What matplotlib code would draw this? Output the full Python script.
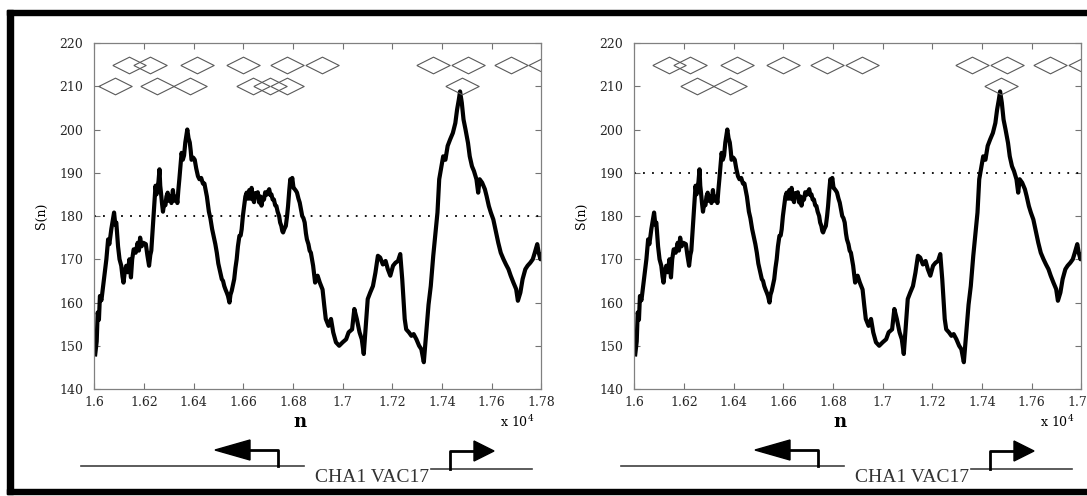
import matplotlib.pyplot as plt
from matplotlib.patches import Rectangle, Polygon

# S(n) curve (same curve in both panels)
n_vals = [16003, 16009, 16013, 16018, 16022, 16028, 16035, 16042, 16048, 16055,
          16060, 16068, 16074, 16079, 16084, 16088, 16095, 16101, 16108, 16113,
          16117, 16122, 16128, 16134, 16141, 16147, 16152, 16158, 16166, 16174,
          16179, 16184, 16190, 16197, 16207, 16213, 16220, 16225, 16229, 16237,
          16241, 16246, 16250, 16253, 16258, 16262, 16265, 16268, 16272, 16276,
          16281, 16286, 16290, 16295, 16300, 16305, 16310, 16316, 16320, 16325,
          16330, 16334, 16338, 16342, 16347, 16351, 16356, 16361, 16366, 16370,
          16374, 16379, 16384, 16388, 16391, 16398, 16404, 16410, 16417, 16423,
          16430, 16437, 16443, 16448, 16453, 16461, 16467, 16474, 16480, 16487,
          16493, 16499, 16504, 16509, 16513, 16518, 16523, 16528, 16533, 16538,
          16544, 16548, 16553, 16558, 16563, 16568, 16573, 16578, 16584, 16589,
          16593, 16598, 16603, 16608, 16613, 16618, 16624, 16628, 16633, 16638,
          16643, 16648, 16653, 16658, 16664, 16669, 16673, 16678, 16683, 16688,
          16693, 16698, 16704, 16709, 16713, 16718, 16723, 16728, 16733, 16738,
          16744, 16748, 16753, 16757, 16760, 16765, 16771, 16776, 16780, 16785,
          16789, 16793, 16797, 16802, 16807, 16812, 16816, 16822, 16827, 16832,
          16837, 16842, 16847, 16852, 16856, 16862, 16867, 16872, 16881, 16889,
          16899, 16908, 16919, 16926, 16932, 16943, 16953, 16962, 16973, 16986,
          17000, 17014, 17024, 17038, 17047, 17057, 17068, 17077, 17085, 17092,
          17101, 17111, 17122, 17132, 17142, 17151, 17162, 17173, 17182, 17192,
          17203, 17213, 17223, 17232, 17240, 17250, 17256, 17267, 17277, 17286,
          17297, 17308, 17317, 17327, 17338, 17346, 17355, 17365, 17373, 17382,
          17389, 17396, 17405, 17414, 17423, 17433, 17444, 17454, 17461, 17468,
          17473, 17480, 17487, 17495, 17505, 17512, 17521, 17529, 17539, 17546,
          17552, 17562, 17573, 17580, 17589, 17597, 17607, 17618, 17627, 17637,
          17648, 17658, 17668, 17677, 17688, 17699, 17706, 17716, 17725, 17736,
          17745, 17756, 17766, 17774, 17784, 17790, 17797, 17800]
s_vals = [148, 151, 157.7, 156, 161.5, 160.5, 163.8, 167, 170, 174.6,
          173.5, 177, 179, 180.8, 178, 178.5, 173, 170, 168.5, 166,
          164.6, 167, 168.5, 167, 170, 165.8, 170, 172.3, 171.5, 173.8,
          172, 175, 173, 173.8, 173.5, 171, 168.5, 171, 172, 179.2,
          183, 187, 185, 186, 188, 190.8, 187, 185.4, 183, 181,
          183, 182.5, 184.5, 185.4, 183.5, 184.5, 183, 186, 184, 183.5,
          184.5, 183, 186, 188.5, 192, 194.6, 193, 194, 197, 198.5,
          200, 198, 197, 195, 193, 193.5, 193, 191, 189.2, 188.5,
          188.8, 187.5, 187.5, 186, 184.5, 181, 179.5, 177, 175.4, 173.5,
          171.5, 169, 167.7, 166.5, 165.4, 165, 163.8, 163, 162.3, 161.5,
          160, 161.8, 162.7, 164, 165.4, 168, 170, 173, 175.4, 175.5,
          176.9, 180, 182.3, 184.5, 185.4, 184, 186, 184, 186.5, 184,
          183.2, 185.3, 184.6, 185.5, 183.1, 184.5, 182.4, 184.2, 183.8, 185.5,
          184.9, 185.5, 186.2, 184.8, 185, 183.8, 183.8, 182.5, 182.3, 181,
          180, 178.5, 177.7, 176.5, 176.2, 177, 177.7, 180, 182.3, 186,
          188.5, 187.8, 188.8, 186.5, 186.2, 185.8, 185.4, 184, 183.1, 181.5,
          180, 179.5, 178.5, 176, 174.6, 173.5, 172, 171.5, 168.5, 164.6,
          166.2, 164.6, 163, 159.2, 156.2, 154.6, 156.2, 153.1, 150.8, 150,
          150.8, 151.5, 153.1, 153.8, 158.5, 156.2, 153.1, 151.5, 148.1, 153.8,
          160.8, 162.3, 163.8, 166.9, 170.8, 170.4, 168.8, 169.6, 167.7, 166.2,
          168.5, 169.2, 169.6, 171.2, 165.4, 156.2, 153.8, 153.1, 152.3, 152.7,
          151.5, 150, 149.2, 146.2, 154, 159.5, 163.8, 170.8, 175.4, 180.8,
          188.5, 190.8, 193.8, 193, 196.2, 197.7, 199.2, 201.5, 204.6, 206.9,
          208.8, 206.2, 202.3, 200, 196.9, 193.8, 191.5, 190.4, 188.5, 185.4,
          188.5, 187.7, 186.2, 184.6, 182.3, 180.8, 179.2, 176.2, 173.8, 171.5,
          170, 168.8, 167.7, 166.2, 164.6, 163.1, 160.4, 162.3, 165.4, 167.7,
          168.5, 169.2, 170, 171.5, 173.5, 171.5, 170, 171]

# diamond markers (window centres), upper row at 215, lower row at 210
top_left = [16140, 16224, 16412, 16599, 16776, 16916, 17365, 17503, 17678, 17814]
low_left = [16083, 16253, 16386, 16640, 16707, 16775, 17482]
top_right = [16140, 16224, 16412, 16599, 16776, 16916, 17358, 17500, 17674, 17814]
low_right = [16253, 16386, 17478]
row_y = [215, 210]

thresholds = [180, 190]
x_ticks = [16000, 16200, 16400, 16600, 16800, 17000, 17200, 17400, 17600, 17800]
x_labels = ['1.6', '1.62', '1.64', '1.66', '1.68', '1.7', '1.72', '1.74', '1.76', '1.78']
y_ticks = [140, 150, 160, 170, 180, 190, 200, 210, 220]
gene_text = 'CHA1 VAC17'

plt.rcParams['font.family'] = ['DejaVu Serif']
plt.rcParams['mathtext.fontset'] = 'dejavuserif'

fig = plt.figure(figsize=(10.87, 4.96), dpi=100)

# background layer in pixel units: frame + gene diagram
bg = fig.add_axes([0, 0, 1, 1])
bg.set_xlim(0, 1087)
bg.set_ylim(496, 0)
bg.axis('off')
bg.add_patch(Rectangle((7, 10), 1080, 5, color='k'))
bg.add_patch(Rectangle((7, 10), 6, 484, color='k'))
bg.add_patch(Rectangle((7, 489), 1080, 5, color='k'))

# wide diamond marker (width = 2 x height)
diamond = [(-1, 0), (0, 0.5), (1, 0), (0, -0.5), (-1, 0)]

panels = [(0.0869, thresholds[0], top_left, low_left, 0),
          (0.5837, thresholds[1], top_right, low_right, 540)]

for x0, thr, top, low, dx in panels:
    ax = fig.add_axes([x0, 0.2157, 0.411, 0.6976])
    ax.plot(n_vals, s_vals, color='k', lw=3.0, solid_joinstyle='round')
    ax.plot([16000, 17800], [thr, thr], color='k', lw=1.3, linestyle=(0, (1, 4)))
    ax.plot(top, [row_y[0]] * len(top), linestyle='none', marker=diamond,
            markersize=24, markerfacecolor='none', markeredgecolor='0.35', markeredgewidth=0.8)
    ax.plot(low, [row_y[1]] * len(low), linestyle='none', marker=diamond,
            markersize=24, markerfacecolor='none', markeredgecolor='0.35', markeredgewidth=0.8)
    ax.set_xlim(16000, 17800)
    ax.set_ylim(140, 220)
    ax.set_xticks(x_ticks)
    ax.set_xticklabels(x_labels)
    ax.set_yticks(y_ticks)
    ax.tick_params(direction='in', length=4, width=0.8, color='0.45', top=True, right=True,
                   labelsize=9, labelcolor='0.15')
    ax.tick_params(axis='x', pad=5)
    ax.tick_params(axis='y', pad=8)
    for sp in ax.spines.values():
        sp.set_color('0.5')
        sp.set_linewidth(0.9)
    ax.text(-0.118, 0.5, 'S(n)', rotation=90, ha='center', va='center',
            fontsize=9, transform=ax.transAxes)
    ax.text(0.461, -0.095, 'n', ha='center', va='center', fontsize=13,
            fontweight='bold', transform=ax.transAxes)
    ax.text(0.985, -0.095, r'x 10$^4$', ha='right', va='center', fontsize=9,
            transform=ax.transAxes)

    # gene diagram under the panel
    bg.plot([81 + dx, 304 + dx], [466, 466], color='0.25', lw=1.2)
    bg.plot([278 + dx, 278 + dx, 250 + dx], [466, 450, 450], color='k', lw=2)
    bg.add_patch(Polygon([(250 + dx, 440), (250 + dx, 460), (215 + dx, 450)], color='k'))
    bg.plot([431 + dx, 532 + dx], [469, 469], color='0.25', lw=1.2)
    bg.plot([450 + dx, 450 + dx, 474 + dx], [469, 451, 451], color='k', lw=2)
    bg.add_patch(Polygon([(474 + dx, 441), (474 + dx, 461), (494 + dx, 451)], color='k'))
    bg.text(315 + dx, 478, gene_text, ha='left', va='center', fontsize=14,
            family=['Liberation Serif'], color='0.2')

fig.savefig('out.png', dpi=100)
